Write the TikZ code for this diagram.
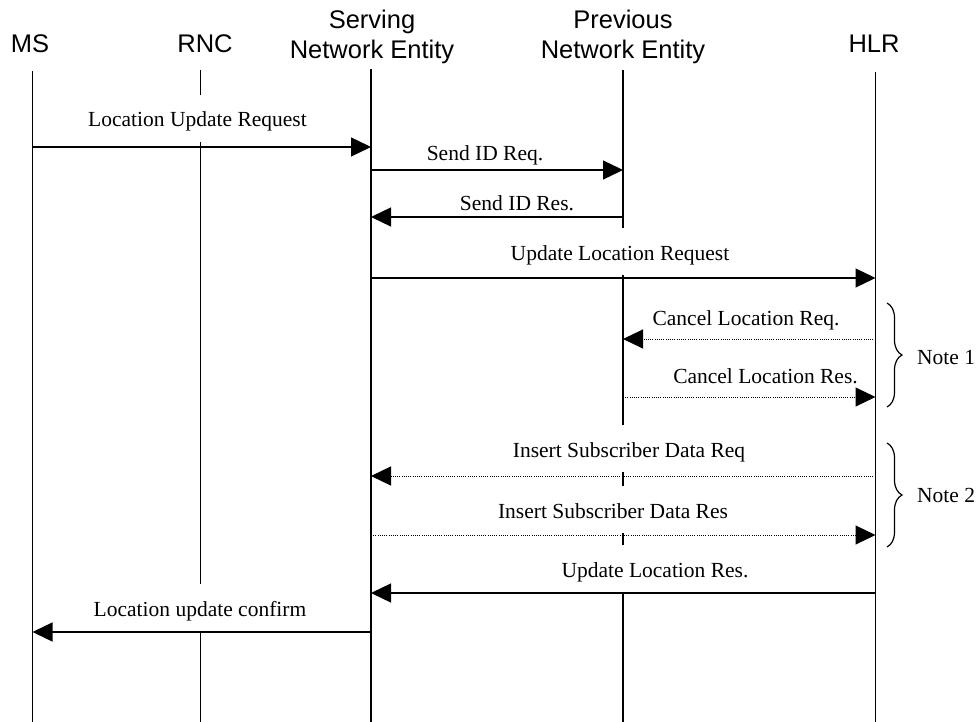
\documentclass[tikz,border=0pt]{standalone}
\usepackage{fontspec}
\setmainfont{Liberation Serif}
\newfontfamily\hdrfont{Liberation Sans}
\usetikzlibrary{arrows.meta,decorations.pathreplacing}
\begin{document}
\begin{tikzpicture}[x=1pt,y=-1pt,
  hdr/.style={font=\hdrfont\fontsize{25.5}{30}\selectfont, align=center, anchor=base, inner sep=0pt},
  lifeline/.style={line width=1.3pt},
  lbl/.style={font=\fontsize{21.5}{24}\selectfont, anchor=base, fill=white, inner xsep=2pt, inner ysep=0pt, text height=32pt, text depth=15pt},
  note/.style={font=\fontsize{21.5}{24}\selectfont, anchor=base west, inner sep=0pt},
  msg/.style={line width=1.3pt, -{Triangle[length=20pt,width=19pt]}},
  dmsg/.style={msg, line width=1pt, dash pattern=on 1pt off 1.2pt},
  notebrace/.style={line width=1.2pt, decorate, decoration={brace, amplitude=15pt}}]
\useasboundingbox (0,0) rectangle (977,722);
% headers
\node[hdr] (ms) at (30,53) {MS};
\node[hdr] (rnc) at (205,53) {RNC};
\node[hdr] (sne) at (372,59) {Serving\\Network Entity};
\node[hdr] (pne) at (623,59) {Previous\\Network Entity};
\node[hdr] (hlr) at (874,53) {HLR};
% lifeline ends
\coordinate (ms-t) at (32.5,71);  \coordinate (ms-b) at (32.5,722);
\coordinate (rnc-t) at (200.5,70); \coordinate (rnc-b) at (200.5,722);
\coordinate (sne-t) at (371,69);  \coordinate (sne-b) at (371,722);
\coordinate (pne-t) at (623,70);  \coordinate (pne-b) at (623,722);
\coordinate (hlr-t) at (875.5,72); \coordinate (hlr-b) at (875.5,722);
\foreach \l in {ms,rnc,sne,pne,hlr} \draw[lifeline] (\l-t) -- (\l-b);
% labels
\node[lbl] (l1) at (197.5,127) {Location Update Request};
\node[lbl] (l2) at (485,161) {Send ID Req.};
\node[lbl] (l3) at (517,211) {Send ID Res.};
\node[lbl] (l4) at (620,260) {Update Location Request};
\node[lbl] (l5) at (746,325) {Cancel Location Req.};
\node[lbl] (l6) at (765.5,383) {Cancel Location Res.};
\node[lbl] (l7) at (629,457) {Insert Subscriber Data Req};
\node[lbl] (l8) at (613,518) {Insert Subscriber Data Res};
\node[lbl] (l9) at (655,577) {Update Location Res.};
\node[lbl] (l10) at (200,616) {Location update confirm};
% messages
\draw[msg]  (ms-t |- 0,147) -- (sne-t |- 0,147);
\draw[msg]  (sne-t |- 0,170) -- (pne-t |- 0,170);
\draw[msg]  (pne-t |- 0,217) -- (sne-t |- 0,217);
\draw[msg]  (sne-t |- 0,278) -- (hlr-t |- 0,278);
\draw[dmsg] (hlr-t |- 0,339) -- (pne-t |- 0,339);
\draw[dmsg] (pne-t |- 0,397) -- (hlr-t |- 0,397);
\draw[dmsg] (hlr-t |- 0,476) -- (sne-t |- 0,476);
\draw[dmsg] (sne-t |- 0,535) -- (hlr-t |- 0,535);
\draw[msg]  (hlr-t |- 0,593) -- (sne-t |- 0,593);
\draw[msg]  (sne-t |- 0,632) -- (ms-t |- 0,632);
% notes
\coordinate (b1t) at (887,303); \coordinate (b1b) at (887,407);
\coordinate (b2t) at (887,443); \coordinate (b2b) at (887,547);
\draw[notebrace] (b1t) -- (b1b);
\draw[notebrace] (b2t) -- (b2b);
\node[note] (n1) at (917,364) {Note 1};
\node[note] (n2) at (917,502) {Note 2};
\end{tikzpicture}
\end{document}
